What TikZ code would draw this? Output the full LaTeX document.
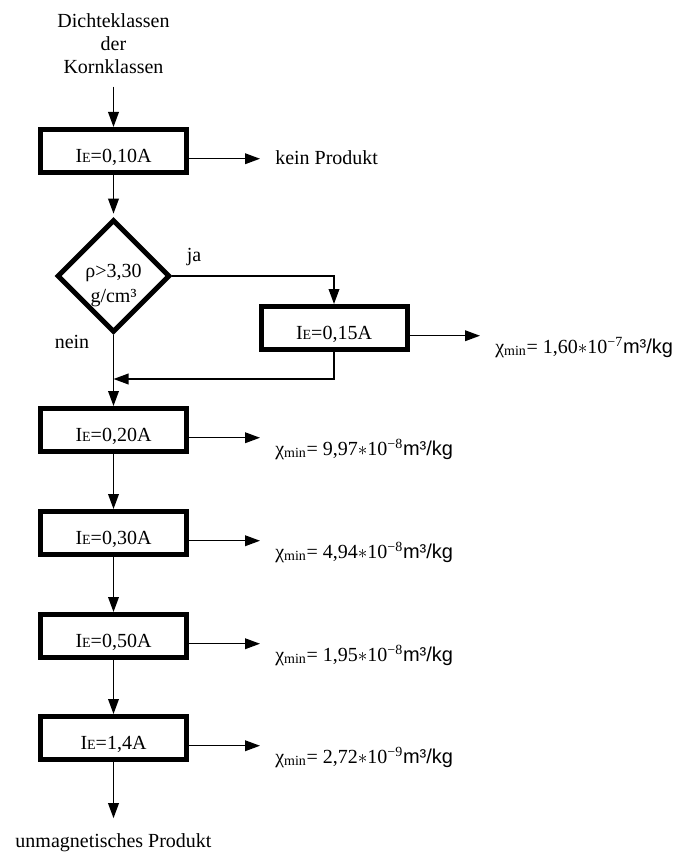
\documentclass[tikz,border=0pt]{standalone}
\usepackage{fontspec}
\setmainfont{Liberation Serif}
\newfontfamily\sansf{Liberation Sans}
\usetikzlibrary{arrows.meta,shapes.geometric}
\newcommand{\IE}{I{\fontsize{10.5}{12}\selectfont E}}
\newcommand{\chimin}[2]{χ\textsubscript{min}= #1$\ast$10\textsuperscript{−#2}{\sansf m³/kg}}
\begin{document}
\begin{tikzpicture}[x=0.75pt,y=-0.75pt,font=\fontsize{15}{17.25}\selectfont,
  box/.style={draw,line width=3.75pt,minimum width=109.5pt,minimum height=32.25pt,
    inner sep=0pt,text height=20pt,text depth=2.8pt},
  dia/.style={draw,diamond,aspect=1,line width=3.75pt,minimum width=84.5pt,
    minimum height=84.5pt,inner sep=0pt},
  arr/.style={line width=1.1pt,-{Triangle[length=11.25pt,width=8pt]}},
  txt/.style={inner sep=0pt}]
\useasboundingbox (0,0) rectangle (678,852);
\node[txt,align=center,anchor=north] (src) at (113.5,13) {Dichteklassen\\der\\Kornklassen};
\node[box] (b1) at (113.5,151) {\IE=0,10A};
\node[dia,label={[align=center,yshift=-7.5pt,font=\fontsize{15}{18.75}\selectfont]center:ρ>3,30\\g/cm³}] (d) at (113.5,276) {};
\node[box] (b2) at (334,328) {\IE=0,15A};
\node[box] (b3) at (113.5,430) {\IE=0,20A};
\node[box] (b4) at (113.5,533) {\IE=0,30A};
\node[box] (b5) at (113.5,636) {\IE=0,50A};
\node[box] (b6) at (113.5,738) {\IE=1,4A};
\node[txt,anchor=base] (out) at (113.5,847) {unmagnetisches Produkt};
\node[txt,anchor=base] (ja) at (194,262) {ja};
\node[txt,anchor=base] (nein) at (72,348) {nein};
\node[txt,anchor=base west] (kp) at (275,165) {kein Produkt};
\node[txt,anchor=base west] (c2) at (495,353) {\chimin{1,60}{7}};
\node[txt,anchor=base west] (c3) at (275,455) {\chimin{9,97}{8}};
\node[txt,anchor=base west] (c4) at (275,558) {\chimin{4,94}{8}};
\node[txt,anchor=base west] (c5) at (275,661) {\chimin{1,95}{8}};
\node[txt,anchor=base west] (c6) at (275,763) {\chimin{2,72}{9}};
\coordinate (m) at (113.5,379);
\draw[arr,shorten <=9.75pt] (src) -- (b1);
\draw[arr,shorten >=2.6pt] (b1) -- (d);
\draw[arr] (d.east) -| (b2);
\draw[arr] (d) -- (b3);
\draw[arr] (b2) |- (m);
\foreach \a/\b in {b3/b4,b4/b5,b5/b6}
  \draw[arr] (\a) -- (\b);
\draw[arr,shorten >=11pt] (b6) -- (out);
\foreach \bx/\lb in {b1/kp,b2/c2,b3/c3,b4/c4,b5/c5,b6/c6}{
  \coordinate (o\bx) at ([yshift=-5.8pt]\bx.east);
  \draw[arr,shorten >=11.25pt] (o\bx) -- (o\bx -| \lb.west);
}
\end{tikzpicture}
\end{document}
